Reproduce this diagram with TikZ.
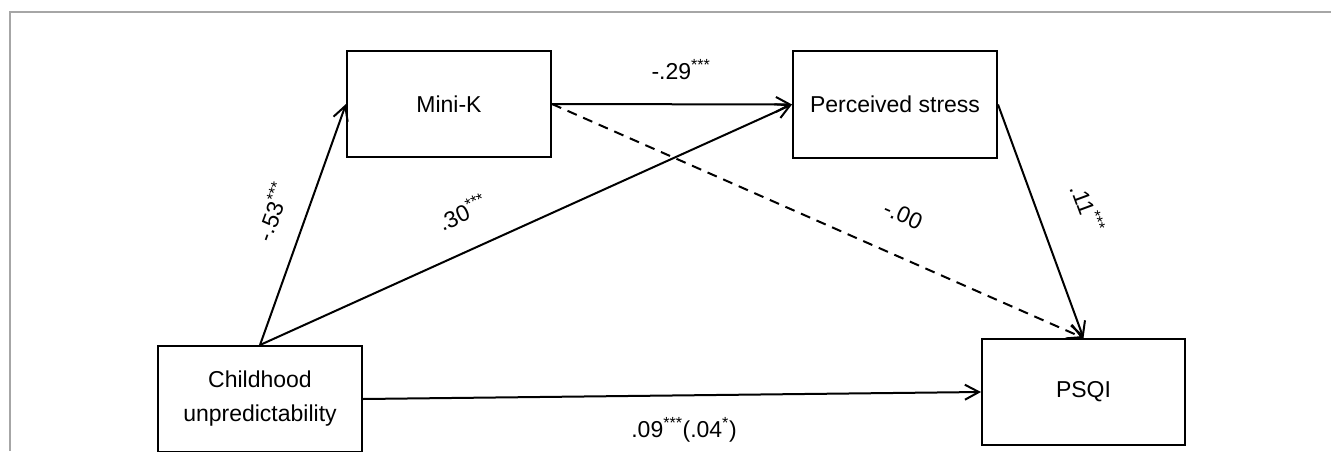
\documentclass[tikz,border=0pt]{standalone}
\usepackage{fontspec}
\setmainfont{Liberation Sans}
\usetikzlibrary{arrows.meta}
\newcommand{\sg}[1]{\textsuperscript{#1}}
\begin{document}
\begin{tikzpicture}[x=1pt,y=1pt,
  box/.style={draw=black,line width=2pt,rectangle,minimum width=204pt,minimum height=106pt,inner sep=0pt,align=center,font=\fontsize{23}{34}\selectfont},
  conn/.style={line width=2pt,-{Straight Barb[length=14pt,width=15pt,line width=2pt]}},
  lbl/.style={font=\fontsize{23}{26}\selectfont,inner sep=0pt},
  frame/.style={draw=black!35,line width=1.5pt}]
\useasboundingbox (0,0) rectangle (1331,451);
\draw[frame] (10,0) -- (10,439) -- (1331,439);
\node[box] (mk) at (449,347) {Mini-K};
\node[box] (ps) at (895,346.5) {Perceived stress};
\node[box] (cu) at (260,52) {Childhood\\unpredictability};
\node[box,minimum width=203pt] (psqi) at (1083.5,59) {PSQI};
\draw[conn] (cu.north) -- (mk.west);
\draw[conn] (cu.north) -- (ps.west);
\draw[conn] (mk.east) -- (ps.west);
\draw[conn,dashed,dash pattern=on 10pt off 7pt] (mk.east) -- (psqi.north);
\draw[conn] (ps.east) -- (psqi.north);
\draw[conn] (cu.east) -- (psqi.west);
\node[lbl] (l1) at (681,381) {-.29\sg{***}};
\node[lbl,rotate=70] (l2) at (272,239) {-.53\sg{***}};
\node[lbl,rotate=24.4] (l3) at (462,239) {.30\sg{***}};
\node[lbl,rotate=-23.7] (l4) at (903,236) {-.00};
\node[lbl,rotate=-69.7] (l5) at (1088,243) {.11\sg{***}};
\node[lbl] (l6) at (684,21) {.09\sg{***}(.04\sg{*})};
\end{tikzpicture}
\end{document}
